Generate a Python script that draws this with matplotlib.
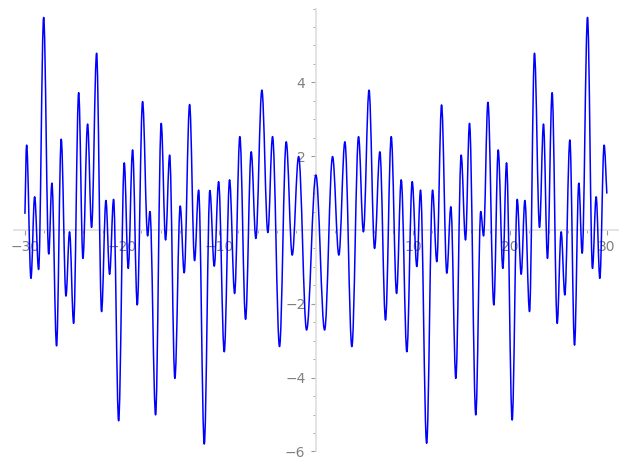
import matplotlib
matplotlib.use("Agg")
import matplotlib.pyplot as plt
from matplotlib.path import Path
from matplotlib.patches import PathPatch
from matplotlib.ticker import MultipleLocator, FuncFormatter
import numpy as np

# Local extrema of the curve, left to right
ext_x = [-30.0, -29.83, -29.38, -29.0, -28.59, -28.07, -27.55, -27.22, -26.74, -26.26,
         -25.77, -25.40, -24.98, -24.46, -24.02, -23.54, -23.13, -22.61, -22.10, -21.65,
         -21.27, -20.86, -20.34, -19.76, -19.35, -18.90, -18.42, -17.87, -17.35, -17.11,
         -16.53, -15.95, -15.50, -15.08, -14.54, -13.99, -13.58, -13.02, -12.51, -12.09,
         -11.51, -10.93, -10.48, -10.03, -9.45, -8.90, -8.38, -7.84, -7.25, -6.67,
         -6.19, -5.57, -4.95, -4.47, -3.75, -3.06, -2.44, -1.78, -0.96, 0.0,
         0.90, 1.72, 2.37, 2.99, 3.71, 4.40, 4.90, 5.48, 6.05, 6.60,
         7.18, 7.77, 8.32, 8.80, 9.38, 9.93, 10.41, 10.79, 11.42, 12.03,
         12.47, 12.96, 13.50, 13.92, 14.43, 14.98, 15.43, 15.84, 16.49, 17.00,
         17.29, 17.74, 18.35, 18.80, 19.28, 19.66, 20.24, 20.76, 21.17, 21.55,
         22.03, 22.54, 23.06, 23.47, 23.88, 24.36, 24.88, 25.29, 25.67, 26.19,
         26.67, 27.11, 27.46, 28.01, 28.52, 28.90, 29.28, 29.72, 30.0]
ext_y = [0.45, 2.30, -1.31, 0.90, -1.07, 5.76, -0.65, 1.27, -3.14, 2.46,
         -1.79, -0.05, -2.53, 3.72, -0.77, 2.87, 0.07, 4.79, -2.21, 0.80,
         -1.20, 0.83, -5.17, 1.82, -1.04, 2.17, -2.03, 3.48, -0.16, 0.50,
         -5.01, 2.89, -0.27, 2.03, -4.02, 0.65, -1.16, 3.40, -0.83, 1.08,
         -5.80, 1.07, -0.98, 1.31, -3.30, 1.36, -1.72, 2.53, -2.42, 2.12,
         -0.23, 3.79, -0.07, 2.53, -3.16, 2.39, -0.68, 1.99, -2.71, 1.49,
         -2.71, 1.99, -0.68, 2.39, -3.16, 2.53, -0.05, 3.79, -0.50, 2.12,
         -2.44, 2.53, -1.72, 1.36, -3.30, 1.31, -0.99, 1.08, -5.78, 1.08,
         -0.86, 3.39, -1.17, 0.63, -4.02, 2.03, -0.27, 2.89, -5.01, 0.50,
         -0.16, 3.46, -2.03, 2.17, -1.04, 1.82, -5.15, 0.83, -1.20, 0.80,
         -2.21, 4.79, 0.07, 2.87, -0.77, 3.72, -2.53, -0.05, -1.76, 2.44,
         -3.12, 1.27, -0.63, 5.76, -1.04, 0.90, -1.31, 2.30, 1.00]

x_ticks_major = [-30, -20, -10, 0, 10, 20, 30]
y_ticks_major = [-6, -4, -2, 0, 2, 4]

fig = plt.figure(figsize=(6.27, 4.69), dpi=100)
ax = fig.add_axes([0.022, 0.0375, 0.9636, 0.9442])

# smooth line through the extrema (horizontal tangents at extrema)
a = 0.3634
verts = [(ext_x[0], ext_y[0])]
codes = [Path.MOVETO]
n = len(ext_x)
for i in range(n - 1):
    x0, y0, x1, y1 = ext_x[i], ext_y[i], ext_x[i + 1], ext_y[i + 1]
    h = x1 - x0
    if i == 0:
        c1 = (x0 + h / 3, y0 + (y1 - y0) / 3)
    else:
        c1 = (x0 + a * h, y0)
    if i == n - 2:
        c2 = (x1 - h / 3, y1 - (y1 - y0) / 3)
    else:
        c2 = (x1 - a * h, y1)
    verts += [c1, c2, (x1, y1)]
    codes += [Path.CURVE4] * 3
patch = PathPatch(Path(verts, codes), fill=False, edgecolor="#0000ff", lw=1.1,
                  transform=ax.transData, zorder=3, capstyle="round", joinstyle="round")
ax.add_patch(patch)

ax.set_xlim(-31.15, 31.15)
ax.set_ylim(-6.0, 6.0)

for s in ("top", "right"):
    ax.spines[s].set_visible(False)
for s in ("left", "bottom"):
    ax.spines[s].set_position(("data", 0))
    ax.spines[s].set_color("#e0e0e0")
    ax.spines[s].set_linewidth(1.3)

ax.xaxis.set_major_locator(plt.FixedLocator(x_ticks_major))
ax.xaxis.set_minor_locator(MultipleLocator(2))
ax.yaxis.set_major_locator(plt.FixedLocator(y_ticks_major))
ax.yaxis.set_minor_locator(MultipleLocator(0.5))

def fmt(v, pos):
    if abs(v) < 1e-9:
        return ""
    s = f"{v:g}"
    return s.replace("-", "\u2212")

ax.xaxis.set_major_formatter(FuncFormatter(fmt))
ax.yaxis.set_major_formatter(FuncFormatter(fmt))
ax.tick_params(which="major", length=3.5, width=0.8, color="#999999",
               labelcolor="#808080", labelsize=10, pad=4)
ax.tick_params(which="minor", length=2, width=0.6, color="#999999")
ax.set_facecolor("white")

fig.savefig("out.png", dpi=100)
